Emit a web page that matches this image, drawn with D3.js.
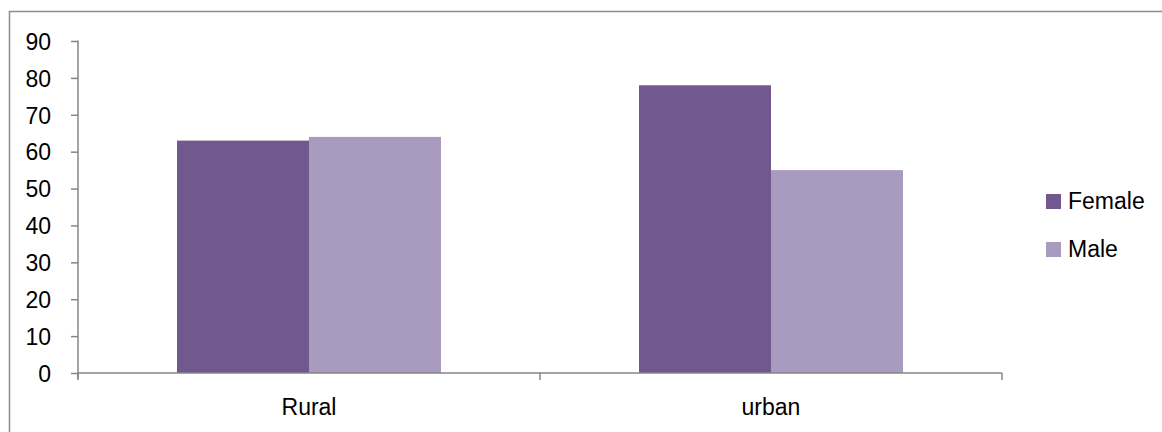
<!DOCTYPE html>
<html>
<head>
<meta charset="utf-8">
<script src="https://cdn.jsdelivr.net/npm/d3@7/dist/d3.min.js"></script>
<style>
  html, body { margin: 0; padding: 0; background: #fff; }
  svg { display: block; }
  text { font-family: "Liberation Sans", Arial, sans-serif; fill: #000; }
</style>
</head>
<body>
<svg id="chart" width="1162" height="432"></svg>
<script>
// Grouped column chart: share by area and sex
const categories = ["Rural", "urban"];
const seriesNames = ["Female", "Male"];
const femaleValues = [63, 78];
const maleValues = [64, 55];
const yTicks = [0, 10, 20, 30, 40, 50, 60, 70, 80, 90];
const seriesColors = ["#71598f", "#a99bbf"];

const svg = d3.select("#chart");
const plot = { left: 78, right: 1002, top: 41, bottom: 373 };
const fontSize = 23;

// outer frame (open on the right and bottom edges)
svg.append("rect")
  .attr("x", 9.5).attr("y", 11.5)
  .attr("width", 1200).attr("height", 500)
  .attr("fill", "none").attr("stroke", "#8c8c8c").attr("stroke-width", 1.5);

const x0 = d3.scaleBand().domain(categories).range([plot.left, plot.right]).padding(0);
// 150% gap between groups: each band holds 2 bars plus 0.75 bar on each side
const x1 = d3.scaleBand().domain(seriesNames).range([0, x0.bandwidth()]).paddingInner(0).paddingOuter(0.75);
const y = d3.scaleLinear().domain([0, 90]).range([plot.bottom, plot.top]);

const rows = categories.map((c, i) => ({ cat: c, vals: [femaleValues[i], maleValues[i]] }));

const groups = svg.append("g").selectAll("g").data(rows).join("g")
  .attr("transform", d => `translate(${x0(d.cat)},0)`);

groups.selectAll("rect").data(d => d.vals.map((v, j) => ({ name: seriesNames[j], v, j })))
  .join("rect")
  .attr("x", d => x1(d.name))
  .attr("y", d => y(d.v))
  .attr("width", x1.bandwidth())
  .attr("height", d => y(0) - y(d.v))
  .attr("fill", d => seriesColors[d.j]);

// y axis
const yAxis = svg.append("g").attr("transform", `translate(${plot.left},0)`)
  .call(d3.axisLeft(y).tickValues(yTicks).tickSize(7).tickFormat(d3.format("d")));
yAxis.select(".domain").attr("stroke", "#868686").attr("stroke-width", 1.5)
  .attr("d", `M0,${plot.top - 0.5}V${plot.bottom + 6}`);
yAxis.selectAll(".tick line").attr("stroke", "#868686").attr("stroke-width", 1.5);
yAxis.selectAll(".tick text")
  .attr("x", -27).attr("dy", "0.36em")
  .attr("text-anchor", "end")
  .attr("font-size", fontSize)
  .attr("font-family", null)
  .attr("fill", "#000");

// x axis
const xAxis = svg.append("g").attr("transform", `translate(0,${plot.bottom})`);
xAxis.append("path").attr("d", `M${plot.left},0H${plot.right}`)
  .attr("stroke", "#868686").attr("stroke-width", 1.5).attr("fill", "none");
const bounds = [plot.left, ...categories.map(c => x0(c) + x0.bandwidth())];
xAxis.selectAll("line.tk").data(bounds).join("line").attr("class", "tk")
  .attr("x1", d => d).attr("x2", d => d).attr("y1", 0).attr("y2", 7)
  .attr("stroke", "#868686").attr("stroke-width", 1.5);
xAxis.selectAll("text").data(categories).join("text")
  .attr("x", d => x0(d) + x0.bandwidth() / 2).attr("y", 42)
  .attr("text-anchor", "middle")
  .attr("font-size", fontSize)
  .text(d => d);

// legend
const legend = svg.append("g").selectAll("g").data(seriesNames).join("g")
  .attr("transform", (d, i) => `translate(1046,${194 + i * 48})`);
legend.append("rect").attr("width", 15).attr("height", 15).attr("fill", (d, i) => seriesColors[i]);
legend.append("text")
  .attr("x", 22).attr("y", 15)
  .attr("font-size", fontSize)
  .text(d => d);
</script>
</body>
</html>
